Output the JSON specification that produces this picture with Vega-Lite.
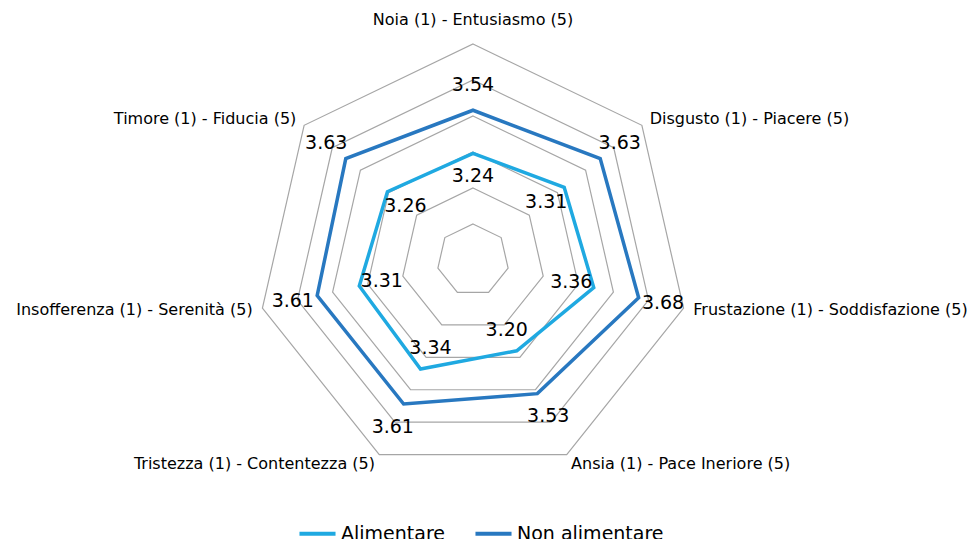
{
  "$schema": "https://vega.github.io/schema/vega-lite/v6.json",
  "width": 976,
  "height": 539,
  "autosize": {"type": "none"},
  "padding": 0,
  "background": "white",
  "config": {"view": {"stroke": null}, "font": "DejaVu Sans"},
  "datasets": {
    "scores": [
      {"cat": "Noia (1) - Entusiasmo (5)", "k": 0, "series": "Alimentare", "value": 3.24},
      {"cat": "Disgusto (1) - Piacere (5)", "k": 1, "series": "Alimentare", "value": 3.31},
      {"cat": "Frustazione (1) - Soddisfazione (5)", "k": 2, "series": "Alimentare", "value": 3.36},
      {"cat": "Ansia (1) - Pace Ineriore (5)", "k": 3, "series": "Alimentare", "value": 3.20},
      {"cat": "Tristezza (1) - Contentezza (5)", "k": 4, "series": "Alimentare", "value": 3.34},
      {"cat": "Insofferenza (1) - Serenità (5)", "k": 5, "series": "Alimentare", "value": 3.31},
      {"cat": "Timore (1) - Fiducia (5)", "k": 6, "series": "Alimentare", "value": 3.26},
      {"cat": "Noia (1) - Entusiasmo (5)", "k": 0, "series": "Non alimentare", "value": 3.54},
      {"cat": "Disgusto (1) - Piacere (5)", "k": 1, "series": "Non alimentare", "value": 3.63},
      {"cat": "Frustazione (1) - Soddisfazione (5)", "k": 2, "series": "Non alimentare", "value": 3.68},
      {"cat": "Ansia (1) - Pace Ineriore (5)", "k": 3, "series": "Non alimentare", "value": 3.53},
      {"cat": "Tristezza (1) - Contentezza (5)", "k": 4, "series": "Non alimentare", "value": 3.61},
      {"cat": "Insofferenza (1) - Serenità (5)", "k": 5, "series": "Non alimentare", "value": 3.61},
      {"cat": "Timore (1) - Fiducia (5)", "k": 6, "series": "Non alimentare", "value": 3.63}
    ],
    "rings": [
      {"ring": 2.75, "k": [0, 1, 2, 3, 4, 5, 6]},
      {"ring": 3.0, "k": [0, 1, 2, 3, 4, 5, 6]},
      {"ring": 3.25, "k": [0, 1, 2, 3, 4, 5, 6]},
      {"ring": 3.5, "k": [0, 1, 2, 3, 4, 5, 6]},
      {"ring": 3.75, "k": [0, 1, 2, 3, 4, 5, 6]},
      {"ring": 4.0, "k": [0, 1, 2, 3, 4, 5, 6]}
    ]
  },
  "layer": [
    {
      "data": {"name": "rings"},
      "transform": [
        {"flatten": ["k"]},
        {"calculate": "(datum.ring - 2.5) * 144", "as": "r"},
        {"calculate": "datum.r * sin(datum.k * 2 * PI / 7)", "as": "px"},
        {"calculate": "datum.r * cos(datum.k * 2 * PI / 7)", "as": "py"}
      ],
      "mark": {"type": "line", "interpolate": "linear-closed", "stroke": "#a6a6a6", "strokeWidth": 1.2},
      "encoding": {
        "x": {"field": "px", "type": "quantitative", "scale": {"domain": [-473, 503], "nice": false, "zero": false}, "axis": null},
        "y": {"field": "py", "type": "quantitative", "scale": {"domain": [-279, 260], "nice": false, "zero": false}, "axis": null},
        "detail": {"field": "ring", "type": "nominal"},
        "order": {"field": "k", "type": "quantitative"}
      }
    },
    {
      "data": {"name": "scores"},
      "transform": [
        {"calculate": "(datum.value - 2.5) * 144", "as": "r"},
        {"calculate": "datum.r * sin(datum.k * 2 * PI / 7)", "as": "px"},
        {"calculate": "datum.r * cos(datum.k * 2 * PI / 7)", "as": "py"}
      ],
      "mark": {"type": "line", "interpolate": "linear-closed", "strokeWidth": 3.5},
      "encoding": {
        "x": {"field": "px", "type": "quantitative", "scale": {"domain": [-473, 503], "nice": false, "zero": false}, "axis": null},
        "y": {"field": "py", "type": "quantitative", "scale": {"domain": [-279, 260], "nice": false, "zero": false}, "axis": null},
        "color": {
          "field": "series", "type": "nominal",
          "scale": {"domain": ["Alimentare", "Non alimentare"], "range": ["#1fa9e1", "#2878c0"]},
          "legend": {
            "title": null, "orient": "none", "direction": "horizontal",
            "legendX": 297, "legendY": 513,
            "symbolType": "stroke", "symbolSize": 1300, "symbolStrokeWidth": 4,
            "labelFontSize": 19, "labelColor": "#000000", "labelOffset": 3,
            "columnPadding": 22, "labelFont": "DejaVu Sans", "labelBaseline": "middle"
          }
        },
        "order": {"field": "k", "type": "quantitative"}
      }
    },
    {
      "data": {"name": "scores"},
      "transform": [
        {"calculate": "(datum.value - 2.5) * 144 + (datum.series == 'Non alimentare' ? 25 : -23)", "as": "r"},
        {"calculate": "datum.r * sin(datum.k * 2 * PI / 7)", "as": "px"},
        {"calculate": "datum.r * cos(datum.k * 2 * PI / 7)", "as": "py"}
      ],
      "mark": {"type": "text", "fontSize": 19, "color": "#000000", "align": "center", "baseline": "middle"},
      "encoding": {
        "x": {"field": "px", "type": "quantitative", "scale": {"domain": [-473, 503], "nice": false, "zero": false}, "axis": null},
        "y": {"field": "py", "type": "quantitative", "scale": {"domain": [-279, 260], "nice": false, "zero": false}, "axis": null},
        "text": {"field": "value", "type": "quantitative", "format": ".2f"}
      }
    },
    {
      "data": {"name": "scores"},
      "transform": [
        {"filter": "datum.series == 'Alimentare' && datum.k == 0"},
        {"calculate": "0", "as": "px"},
        {"calculate": "240", "as": "py"}
      ],
      "mark": {"type": "text", "fontSize": 16, "color": "#000000", "align": "center", "baseline": "middle"},
      "encoding": {
        "x": {"field": "px", "type": "quantitative", "scale": {"domain": [-473, 503], "nice": false, "zero": false}, "axis": null},
        "y": {"field": "py", "type": "quantitative", "scale": {"domain": [-279, 260], "nice": false, "zero": false}, "axis": null},
        "text": {"field": "cat", "type": "nominal"}
      }
    },
    {
      "data": {"name": "scores"},
      "transform": [
        {"filter": "datum.series == 'Alimentare' && datum.k >= 1 && datum.k <= 3"},
        {"calculate": "226 * sin(datum.k * 2 * PI / 7)", "as": "px"},
        {"calculate": "226 * cos(datum.k * 2 * PI / 7)", "as": "py"}
      ],
      "mark": {"type": "text", "fontSize": 16, "color": "#000000", "align": "left", "baseline": "middle"},
      "encoding": {
        "x": {"field": "px", "type": "quantitative", "scale": {"domain": [-473, 503], "nice": false, "zero": false}, "axis": null},
        "y": {"field": "py", "type": "quantitative", "scale": {"domain": [-279, 260], "nice": false, "zero": false}, "axis": null},
        "text": {"field": "cat", "type": "nominal"}
      }
    },
    {
      "data": {"name": "scores"},
      "transform": [
        {"filter": "datum.series == 'Alimentare' && datum.k >= 4"},
        {"calculate": "226 * sin(datum.k * 2 * PI / 7)", "as": "px"},
        {"calculate": "226 * cos(datum.k * 2 * PI / 7)", "as": "py"}
      ],
      "mark": {"type": "text", "fontSize": 16, "color": "#000000", "align": "right", "baseline": "middle"},
      "encoding": {
        "x": {"field": "px", "type": "quantitative", "scale": {"domain": [-473, 503], "nice": false, "zero": false}, "axis": null},
        "y": {"field": "py", "type": "quantitative", "scale": {"domain": [-279, 260], "nice": false, "zero": false}, "axis": null},
        "text": {"field": "cat", "type": "nominal"}
      }
    }
  ]
}
